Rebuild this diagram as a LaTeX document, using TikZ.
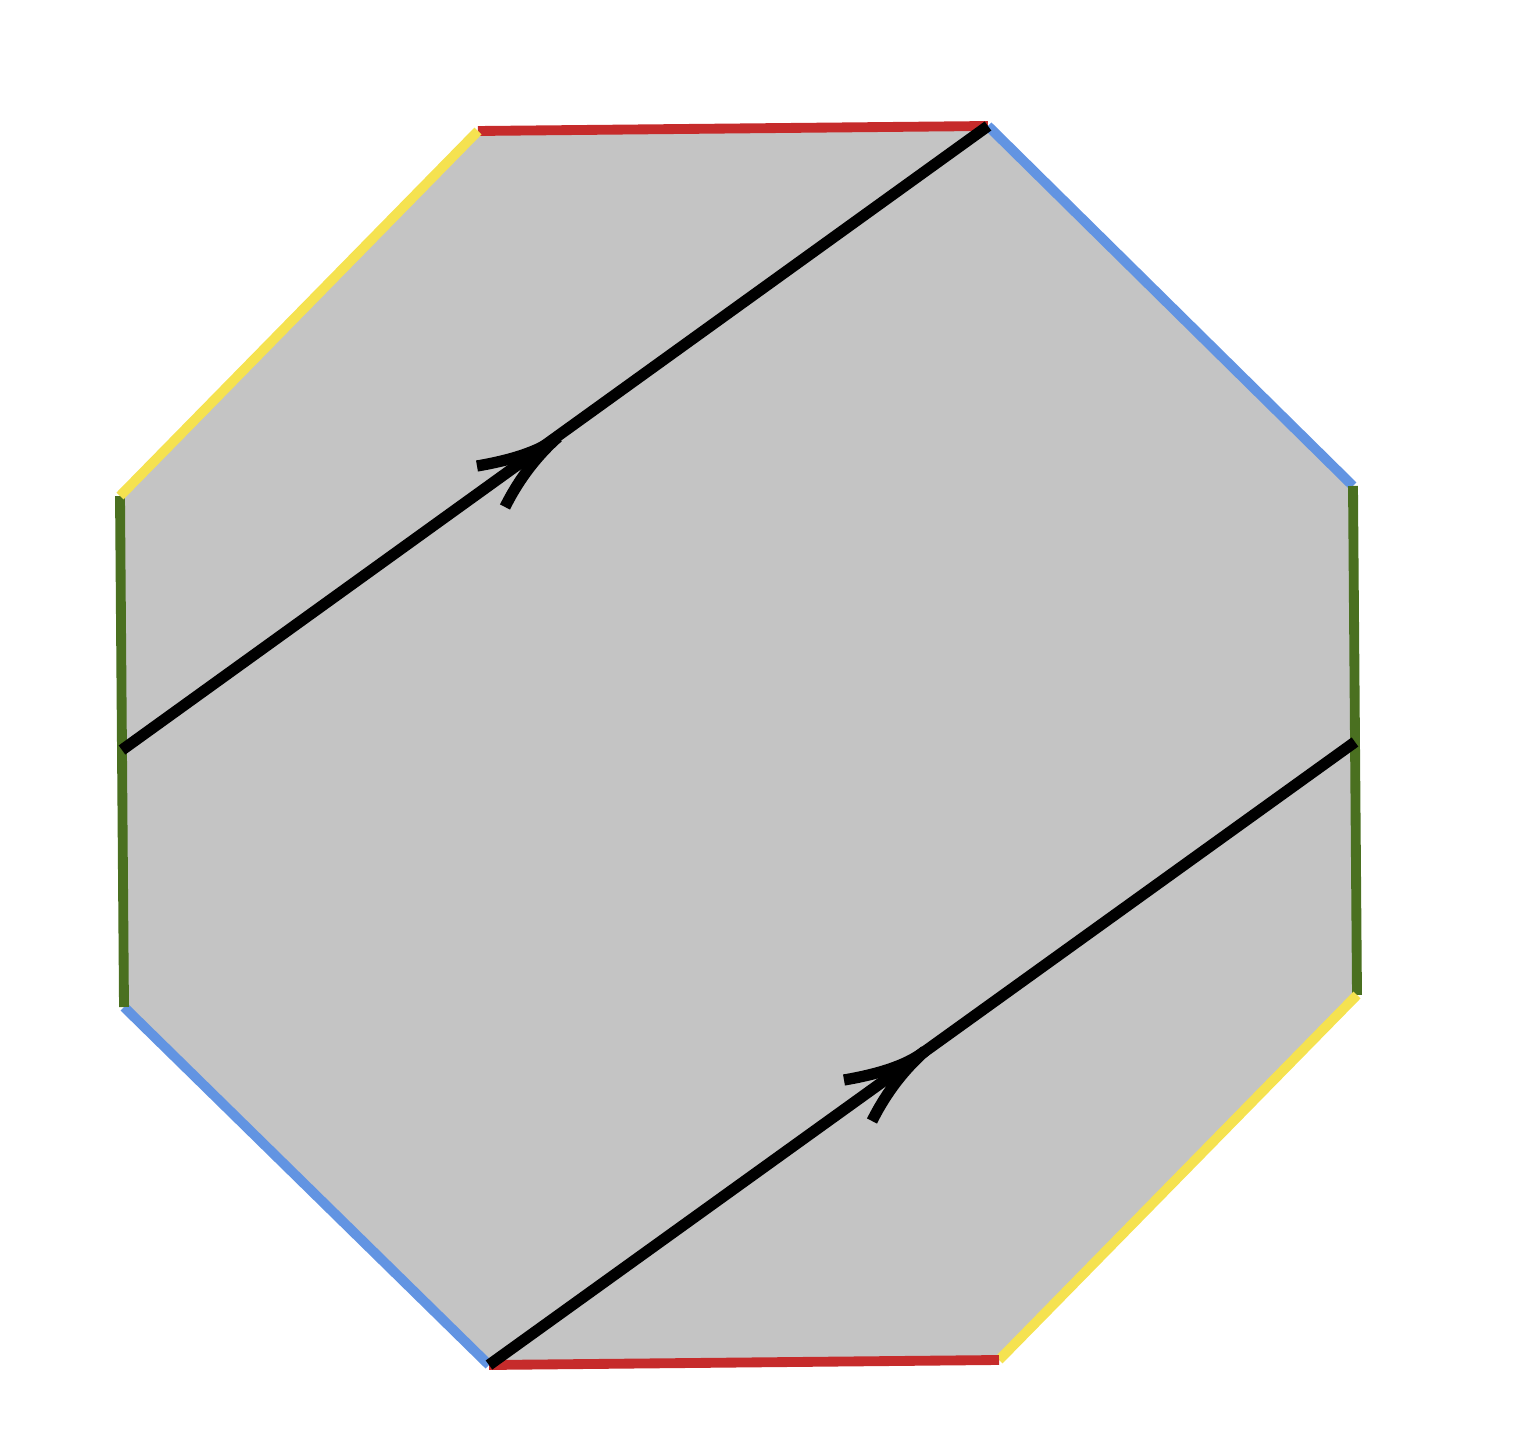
\documentclass[tikz,border=0pt]{standalone}
\begin{document}
\begin{tikzpicture}[x=0.01cm,y=-0.01cm,
  edge/.style={line width=2.8pt},
  path line/.style={line width=3.2pt,black},
  barb/.style={line width=3.2pt,black},
  redE/.style={edge,draw={rgb,255:red,198;green,43;blue,43}},
  blueE/.style={edge,draw={rgb,255:red,98;green,148;blue,226}},
  greenE/.style={edge,draw={rgb,255:red,74;green,112;blue,32}},
  yellowE/.style={edge,draw={rgb,255:red,245;green,226;blue,80}}]
\useasboundingbox (0,0) rectangle (1517,1446);
\coordinate (A) at (478,131);
\coordinate (B) at (988,126);
\coordinate (C) at (1353,486);
\coordinate (D) at (1357,995);
\coordinate (E) at (999,1360);
\coordinate (F) at (489,1365);
\coordinate (G) at (124,1007);
\coordinate (H) at (120,496);
\fill[fill={rgb,255:red,196;green,196;blue,196}] (A)--(B)--(C)--(D)--(E)--(F)--(G)--(H)--cycle;
\draw[redE] (A)--(B);
\draw[blueE] (B)--(C);
\draw[greenE] (C)--(D);
\draw[yellowE] (D)--(E);
\draw[redE] (E)--(F);
\draw[blueE] (F)--(G);
\draw[greenE] (G)--(H);
\draw[yellowE] (H)--(A);
\coordinate (P1) at (122,750);
\coordinate (P2) at (1355,742);
\draw[path line] (P1)--(B);
\draw[path line] (F)--(P2);
\coordinate (T1) at (558,437);
\coordinate (T2) at (925,1051);
\foreach \t in {T1,T2}{
  \draw[barb] ([shift={(-81,29)}]\t) .. controls ([shift={(-40,22)}]\t) and ([shift={(-15,12)}]\t) .. (\t);
  \draw[barb] ([shift={(-53,70)}]\t) .. controls ([shift={(-38,40)}]\t) and ([shift={(-20,18)}]\t) .. (\t);
}
\end{tikzpicture}
\end{document}
